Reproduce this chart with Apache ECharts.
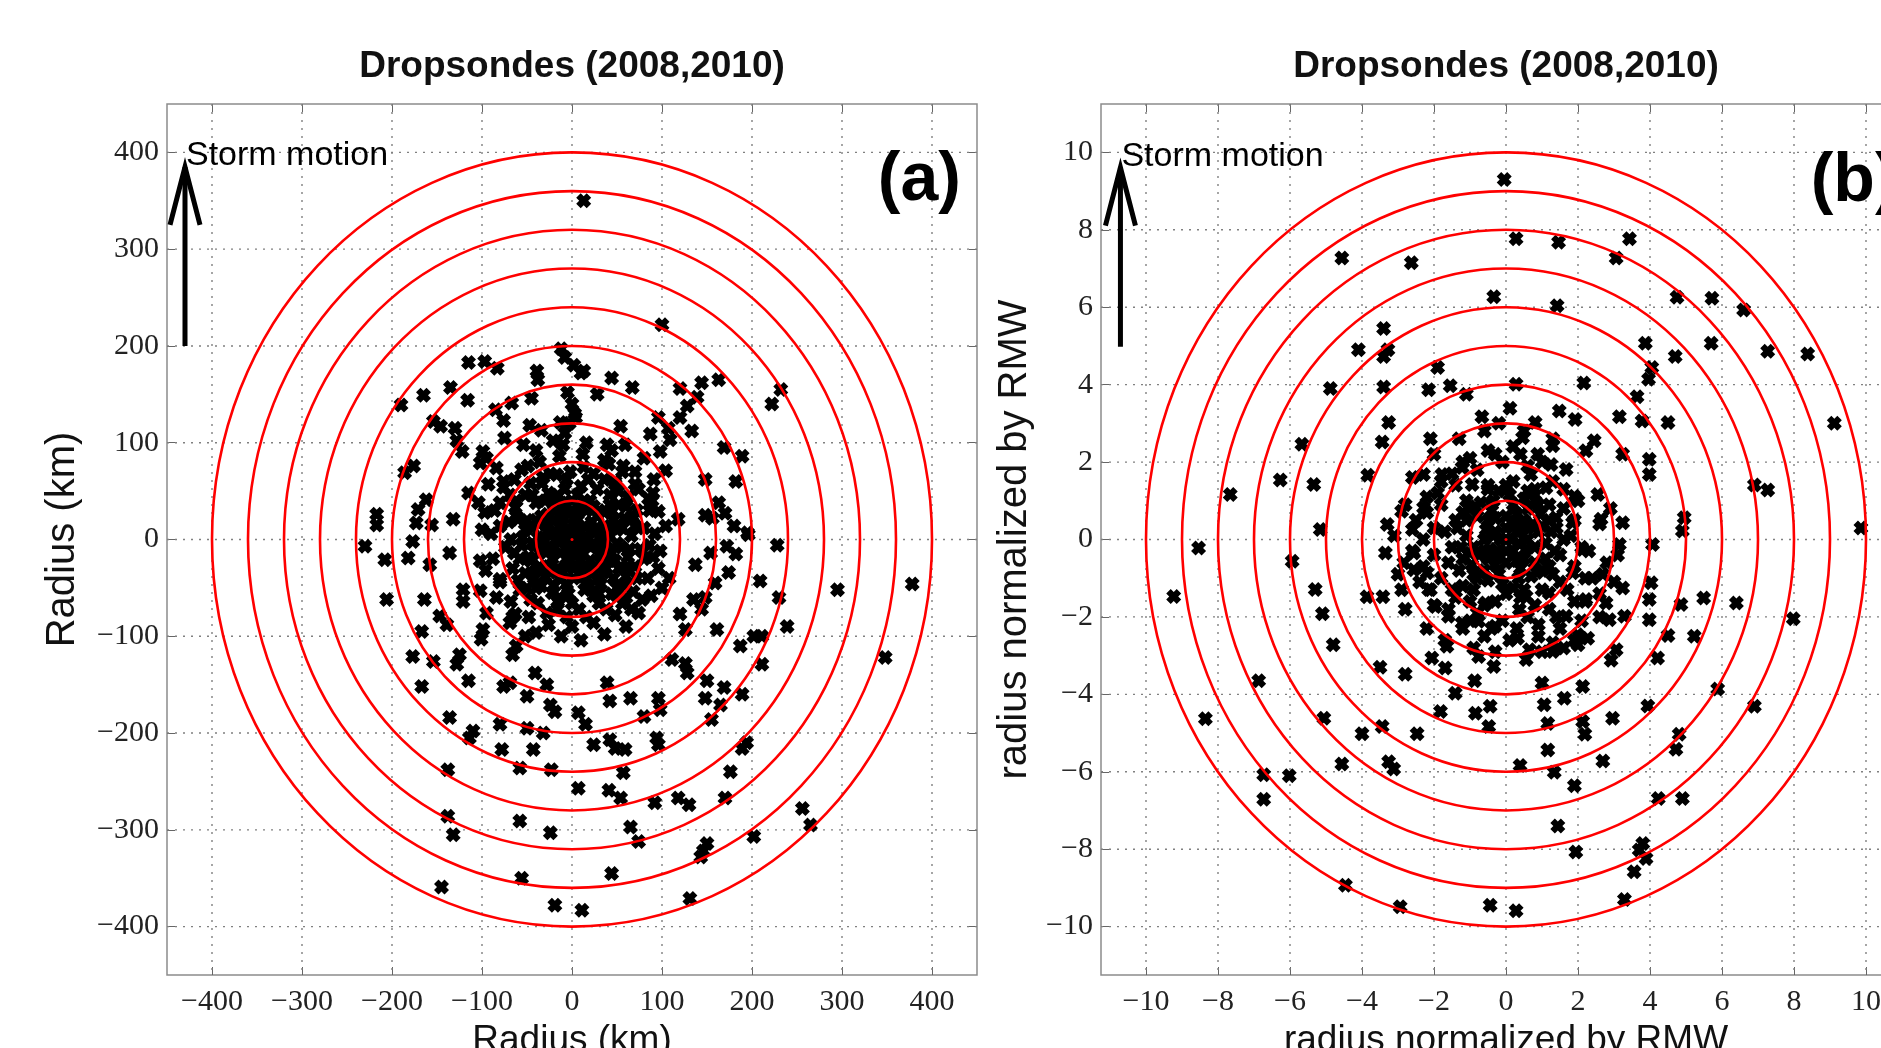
<!DOCTYPE html>
<html>
<head>
<meta charset="utf-8">
<script src="https://cdn.jsdelivr.net/npm/echarts@6/dist/echarts.min.js"></script>
<style>
html, body { margin: 0; padding: 0; background: #fff; }
#main { width: 1881px; height: 1048px; }
</style>
</head>
<body>
<div id="main"></div>
<script>
// ---- data ----
var titleText = 'Dropsondes (2008,2010)';

var kmTicks = [-400, -300, -200, -100, 0, 100, 200, 300, 400];
var rmwTicks = [-10, -8, -6, -4, -2, 0, 2, 4, 6, 8, 10];

var kmRings = [40, 80, 120, 160, 200, 240, 280, 320, 360, 400];
var rmwRings = [1, 2, 3, 4, 5, 6, 7, 8, 9, 10];

// storm motion arrow: [x, yStart, yEnd]
var kmArrow = [[-430, 200, 387]];
var rmwArrow = [[-10.71, 4.98, 9.66]];
var arrowText = 'Storm motion';

// panel tags: [x, y]
var kmTag = [[386, 370]];
var rmwTag = [[9.67, 9.24]];
var tagA = '(a)';
var tagB = '(b)';

var eyeKm = [[0, 0]];
var eyeRmw = [[0, 0]];

// dropsonde positions, km
var sondesKm = [
  // outer, north-west
  [-12,197],[-8,188],[2,180],[10,172],[-5,152],[0,140],[3,130],[-3,120],[-8,110],
  [-115,183],[-97,184],[-83,177],[-39,174],[-38,165],[-135,157],[-165,149],[-190,139],
  [-116,144],[-67,141],[-45,146],[-85,134],[-154,122],[-146,117],[-130,115],[-76,123],
  [-47,118],[-34,113],[-13,121],[-75,105],[-128,102],[-122,91],[-54,98],[-21,102],
  [-99,91],[-102,79],[-95,84],[-186,69],[-176,76],[-84,74],[-49,76],[-76,60],[-93,57],
  [-32,64],[-17,67],[-162,41],[-171,31],[-115,48],[-104,38],[-97,28],[-69,46],[-60,21],
  [-63,33],[-132,21],[-80,14],[-217,26],[-217,15],[-173,17],[-156,15],
  // outer, north-east
  [13,350],[100,222],[13,174],[44,167],[67,157],[28,150],[120,156],[144,162],[163,165],
  [139,147],[232,155],[222,140],[4,126],[120,126],[107,115],[96,126],[54,117],[39,98],
  [59,98],[87,109],[109,103],[98,91],[169,95],[189,86],[148,62],[182,60],[41,78],[57,76],
  [80,84],[91,62],[104,71],[13,75],[163,38],[148,25],[170,27],[180,14],[195,7],[118,21],
  [89,40],[67,24],[46,12],[196,5],[228,-6],[48,57],[70,57],[85,42],[96,29],[156,22],
  [128,138],[133,112],
  // outer, south-west
  [-230,-7],[-208,-21],[-182,-19],[-158,-26],[-177,-2],[-136,-14],[-102,-22],[-206,-62],
  [-164,-62],[-80,-41],[-121,-52],[-121,-64],[-102,-53],[-147,-79],[-139,-88],[-167,-95],
  [-95,-76],[-99,-93],[-101,-103],[-63,-77],[-69,-86],[-52,-100],[-62,-110],[-66,-119],
  [-125,-119],[-128,-129],[-177,-121],[-154,-126],[-115,-146],[-76,-152],[-69,-148],
  [-50,-162],[-41,-138],[-28,-150],[-167,-152],[-24,-171],[-19,-178],[-136,-184],
  [-110,-198],[-114,-205],[-80,-191],[-50,-195],[-32,-200],[-43,-217],[-78,-217],
  [-58,-236],[-23,-238],[-138,-238],[-138,-286],[-132,-305],[-58,-291],[-24,-303],
  [-145,-359],[-56,-350],[-19,-378],
  // outer, south-east
  [172,-7],[182,-15],[154,-14],[137,-26],[209,-43],[230,-60],[239,-90],[295,-52],[378,-46],
  [348,-122],[174,-34],[159,-45],[148,-60],[135,-62],[144,-72],[161,-93],[187,-110],
  [202,-100],[211,-100],[211,-129],[120,-77],[126,-93],[111,-124],[126,-128],[128,-138],
  [150,-146],[169,-153],[148,-164],[165,-171],[189,-160],[155,-186],[80,-183],[96,-164],
  [98,-176],[65,-164],[39,-148],[42,-167],[7,-179],[15,-191],[24,-212],[42,-207],[48,-216],
  [59,-217],[94,-205],[96,-212],[189,-216],[194,-210],[57,-241],[176,-240],[7,-257],
  [41,-259],[54,-267],[92,-272],[118,-267],[130,-274],[170,-267],[65,-297],[74,-312],
  [150,-314],[146,-322],[143,-328],[202,-307],[256,-278],[265,-295],[44,-345],[131,-371],
  [11,-383],
  // core
  [0,0],[8,6],[-8,6],[6,-8],[-6,-9],[16,2],[-16,-2],[2,16],[-3,-17],[14,14],[-14,13],
  [13,-15],[-13,-14],[24,-4],[-24,4],[4,26],[-5,-26],[22,18],[-20,20],[20,-22],[-22,-20],
  [32,6],[-32,-6],[8,34],[-10,-34],[30,-16],[-30,16],[16,30],[-16,-30],[28,24],[-27,26],
  [26,-28],[-26,-28],[38,-2],[-38,2],[0,40],[2,-40],[36,14],[-36,-14],[12,-38],[-12,38],
  [4,-4],[-4,4],[12,0],[-12,0],[0,10],[0,-12],[10,-22],[-10,22],[20,8],[-20,-8],[18,-6],
  [-18,8],[26,10],[-26,-10],[8,-28],[-8,28],[30,30],[-30,-30],[34,-26],[-34,24],[40,6],
  [-42,-6],[44,-14],[-44,12],[22,-36],[-20,36],[6,46],[-6,-46],[30,-40],[-30,40],[46,20],
  [-46,-22],[16,-46],[-16,46],[38,-30],[-40,-32],
  [6,20],[-6,-20],[18,-30],[-18,30],[34,0],[-34,0],[24,34],[-24,-34],[10,-10],[-10,10],
  [40,-20],[-40,20],[28,-8],[-28,8],[14,40],[-14,-40],[36,28],[-36,-28],[2,-30],[0,30],
  [-42,-40],[42,36],[50,-50],[-50,-50],[20,-48],[-20,-48],[50,-4],[56,12],[-56,-6],
  [-52,10],[60,-60],[30,-56],[0,-66],[-16,-64],
  // inner ring
  [44,30],[50,10],[55,-8],[48,-22],[62,-18],[66,4],[58,22],[42,46],[28,52],[10,55],
  [-8,52],[-26,48],[-40,38],[-50,20],[-55,2],[-48,-18],[-52,-35],[-40,-50],[-22,-55],
  [-4,-56],[14,-52],[32,-46],[46,-40],[60,-38],[70,-28],[76,-10],[80,12],[72,30],[62,44],
  [48,60],[24,68],[-2,70],[-24,68],[-46,58],[-62,40],[-70,18],[-74,-8],[-66,-30],
  [-58,-52],[-38,-66],[-16,-72],[8,-72],[30,-66],[50,-58],[68,-54],[84,-40],[90,-18],
  [92,6],[86,30],[74,52],[56,70],[36,82],[12,88],[-14,86],[-36,80],[-56,72],[-76,54],
  [-86,30],[-90,6],[-88,-20],[-80,-44],[-68,-64],[-48,-80],[-26,-88],[0,-90],[24,-86],
  [48,-78],[66,-72],[78,-62],[96,-30],[100,-50],[-30,-38],[35,-34],[40,-12],[-44,-4],
  [20,40],[-18,42],
  [52,-30],[58,-48],[64,-10],[72,-40],[80,-20],[86,-6],[70,14],[60,34],[52,50],[36,62],
  [18,62],[-6,62],[-34,58],[-52,46],[-62,24],[-64,-14],[-60,-42],[-46,-62],[-28,-76],
  [-6,-80],[16,-80],[38,-72],[56,-66],[74,-76],[88,-58],[98,-12],[104,14],[-96,-32],
  [-100,10],[-80,38],[-64,62],[-40,92],[-10,98],[16,100],[44,92],[70,70],[90,48],[108,-40],
  [-12,-100],[10,-104],[36,-98],[60,-90],[-40,-96],[-66,-80],[-84,-60],[24,-58],[-14,-60],
  [44,-56],[-34,-48],[62,-28],[-58,-20],[68,22],[-68,0],[52,36],[-44,46]
];

// dropsonde positions, normalized by RMW
var sondesRmw = [
  // outer, north-west
  [-0.05,9.3],[-4.56,7.27],[-2.63,7.15],[-0.34,6.27],[-3.4,5.45],[-4.1,4.9],[-3.28,4.9],
  [-3.4,4.73],[-1.9,4.44],[-4.88,3.9],[-3.4,3.94],[-2.15,3.87],[-1.55,3.97],[-1.1,3.75],
  [-0.67,3.17],[-0.2,3.0],[-3.26,3.02],[-3.44,2.52],[-2.1,2.6],[-5.67,2.46],[-6.27,1.54],
  [-5.34,1.42],[-7.66,1.16],[-3.84,1.66],[-2.29,1.68],[-1.78,1.68],[-1.22,1.86],
  [-0.94,1.42],[-2.29,0.82],[-2.9,0.73],[-3.3,0.39],[-5.16,0.26],[-2.6,0.26],
  // outer, north-east
  [0.28,7.77],[1.46,7.68],[3.43,7.77],[3.06,7.27],[4.75,6.26],[5.72,6.23],[6.6,5.93],
  [1.42,6.04],[3.87,5.07],[5.7,5.07],[4.7,4.73],[7.27,4.86],[8.38,4.79],[4.05,4.44],
  [3.96,4.14],[2.16,4.04],[0.28,4.01],[3.64,3.69],[0.11,3.39],[1.48,3.32],[1.92,3.1],
  [3.15,3.17],[3.78,3.06],[4.5,3.02],[9.12,3.0],[0.81,3.02],[0.46,2.63],[2.45,2.55],
  [2.22,2.29],[3.24,2.2],[3.98,2.07],[3.98,1.68],[6.9,1.41],[7.27,1.28],[0.88,2.2],
  [2.64,0.52],[3.24,0.43],[4.95,0.56],[4.9,0.22],[9.86,0.3],[1.3,2.42],[1.25,1.94],
  [0.69,1.68],[1.67,1.81],[1.9,1.12],[2.55,1.16],[1.11,1.34],[0.6,1.25],[1.39,0.56],
  [1.85,0.43],
  // outer, south-west
  [-8.54,-0.22],[-9.23,-1.47],[-5.94,-0.56],[-5.3,-1.29],[-5.1,-1.92],[-4.8,-2.72],
  [-3.35,-0.35],[-3.86,-1.48],[-3.42,-1.48],[-6.87,-3.65],[-8.35,-4.63],[-5.06,-4.62],
  [-4.0,-5.02],[-3.44,-4.83],[-2.47,-5.02],[-4.56,-5.8],[-3.26,-5.74],[-3.12,-5.93],
  [-6.73,-6.08],[-6.02,-6.1],[-6.73,-6.71],[-3.5,-3.3],[-2.8,-3.48],[-2.06,-3.06],
  [-1.64,-2.76],[-1.69,-3.32],[-0.76,-3.02],[-0.34,-3.28],[-0.87,-3.65],[-1.41,-3.97],
  [-1.82,-4.44],[-0.85,-4.49],[-0.44,-4.31],[-0.48,-4.83],[-4.46,-8.93],[-2.94,-9.49],
  [-0.44,-9.45],[-2.56,-0.35],[-2.84,-0.6],[-2.56,-0.78],[-2.19,-0.86],[-2.15,-1.29],
  [-1.96,-1.73],[-1.6,-1.98],[-1.22,-2.16],[-0.76,-2.11],[-0.3,-2.24],[-1.5,-1.29],
  [-0.57,-1.64],
  // outer, south-east
  [0.28,-9.59],[3.29,-9.3],[3.56,-8.58],[3.7,-8.02],[3.89,-8.24],[3.8,-7.85],[1.94,-8.07],
  [1.44,-7.4],[4.23,-6.69],[4.9,-6.69],[1.9,-6.36],[1.34,-6.01],[0.39,-5.84],[2.69,-5.72],
  [1.16,-5.44],[4.72,-5.42],[4.81,-5.03],[2.19,-5.03],[2.13,-4.7],[2.96,-4.62],[3.94,-4.3],
  [5.88,-3.86],[6.9,-4.31],[1.06,-4.27],[1.16,-4.75],[1.62,-4.1],[2.13,-3.8],[1.0,-3.71],
  [2.92,-3.12],[3.06,-2.85],[4.21,-3.06],[4.5,-2.48],[5.23,-2.5],[3.98,-2.07],[3.98,-1.55],
  [4.86,-1.68],[5.49,-1.51],[6.4,-1.64],[7.98,-2.05],[2.87,-2.07],[3.29,-1.98],[2.0,-2.72],
  [2.27,-2.55],[1.3,-2.89],[0.56,-3.1],[0.32,-2.55],[2.69,-0.9],[3.24,-1.25],[4.03,-1.12],
  [4.07,-0.13],[3.15,-0.13],[1.85,-0.86],[2.22,-1.55],[1.67,-1.98],[1.2,-1.38],
  [0.56,-1.47],[0.37,-1.81],[0.65,-2.85],[1.3,-2.67],[1.99,-2.46],[2.13,-0.26],[2.78,-1.64],
  // core
  [0,0],[0.3,0.2],[-0.3,0.2],[0.2,-0.3],[-0.25,-0.3],[0.6,0],[-0.6,0],[0,0.6],[0,-0.6],
  [0.5,0.5],[-0.5,0.5],[0.5,-0.5],[-0.5,-0.5],[0.9,0.2],[-0.9,-0.2],[0.2,0.9],[-0.2,-0.9],
  [0.8,-0.6],[-0.8,0.6],[0.6,0.8],[-0.6,-0.8],[1.1,-0.1],[-1.1,0.1],[0.1,1.15],[-0.1,-1.15],
  [0.95,0.65],[-0.95,-0.65],[0.7,-0.95],[-0.7,0.95],
  [0.15,0],[-0.15,0],[0,0.3],[0,-0.3],[0.35,-0.1],[-0.35,0.1],[0.45,0.25],[-0.45,-0.25],
  [0.25,0.45],[-0.25,-0.45],[0.75,0.4],[-0.75,-0.4],[0.4,-0.75],[-0.4,0.75],[0.3,0.65],
  [-0.3,-0.65],[1.0,0.35],[-1.0,-0.35],[0.35,-1.0],[-0.35,1.0],[1.1,-0.5],[-1.1,0.5],
  [0.5,1.05],[-0.5,-1.05],[0.85,-0.85],[-0.85,0.85],[0.9,0.9],[-0.9,-0.9],[1.25,0.2],
  [-1.25,-0.2],[0.2,-1.25],[-0.2,1.25],[1.2,-0.7],[-1.2,0.7],[0.7,1.2],
  [0.15,0.45],[-0.15,-0.45],[0.6,0.3],[-0.6,-0.3],[0.55,-0.25],[-0.55,0.25],[0.3,-0.55],
  [-0.3,0.55],[1.0,-0.8],[-1.0,0.8],[0.8,1.0],[-0.8,-1.0],[1.2,0.5],[-1.2,-0.5],[0.0,1.4],
  [0.0,-1.4],[1.35,-0.3],[-1.35,0.3],[0.5,-1.3],[-0.5,1.3],[-0.6,-1.7],[-1.2,-1.2],
  [-1.6,-0.6],[0.8,-1.7],[1.5,-1.1],[-1.0,-1.6],[-1.7,0.2],[1.6,0.0],
  // inner ring
  [1.4,0.3],[1.5,-0.4],[1.3,-0.9],[1.0,-1.3],[0.4,-1.5],[-0.3,-1.6],[-0.9,-1.3],[-1.3,-0.8],
  [-1.5,-0.2],[-1.4,0.5],[-1.1,1.0],[-0.5,1.4],[0.2,1.5],[0.8,1.3],[1.2,0.9],[1.8,0.1],
  [1.9,-0.7],[1.7,-1.3],[1.2,-1.8],[0.6,-2.0],[-0.1,-2.1],[-0.8,-1.9],[-1.4,-1.5],
  [-1.8,-1.0],[-2.0,-0.4],[-2.0,0.3],[-1.8,0.9],[-1.4,1.4],[-0.8,1.8],[-0.1,2.0],[0.6,1.9],
  [1.3,1.5],[2.3,-0.3],[2.4,-1.0],[2.2,-1.6],[1.5,-2.3],[0.9,-2.5],[0.1,-2.6],[-0.6,-2.5],
  [-1.2,-2.3],[-2.0,-1.7],[-2.4,-1.1],[-2.6,-0.3],[-2.5,0.5],[-2.2,1.1],[-1.8,1.5],
  [-1.2,2.0],[-0.5,2.3],[0.2,2.4],[2.6,0.4],[2.8,-0.6],[2.6,-1.4],[-0.3,-2.9],[-1.7,-2.6],
  [-2.8,-1.8],[-3.0,-0.9],[1.6,-2.8],[2.1,-2.1],[0.8,-0.2],[-0.4,0.9],
  [1.6,0.8],[1.9,0.5],[2.1,-0.2],[2.2,-1.0],[1.9,-1.6],[1.4,-2.0],[0.9,-2.2],[0.3,-2.3],
  [-0.4,-2.3],[-1.0,-2.1],[-1.6,-1.8],[-2.1,-1.3],[-2.3,-0.7],[-2.3,0.0],[-2.2,0.7],
  [-1.9,1.2],[-1.5,1.7],[-1.0,2.1],[-0.3,2.2],[0.4,2.2],[1.0,2.0],[1.6,1.3],[2.0,1.0],
  [2.6,-2.0],[1.9,-2.6],[1.0,-2.9],[-0.9,-2.8],[-2.2,-2.3],[-2.9,-1.3],[-3.1,0.1],
  [-2.8,0.9],[-2.6,1.6],[-2.0,2.2],[-1.3,2.6],[-0.6,2.8],[0.5,2.8],[1.3,2.6],[2.9,0.8],
  [3.1,-0.4],[3.0,-1.1]
];

// ---- styling helpers ----
// bold "x" marker like MATLAB's thick x
var crossMark = 'path://M0,3 L3,0 L5,2 L7,0 L10,3 L8,5 L10,7 L7,10 L5,8 L3,10 L0,7 L2,5 Z';
var sansFont = 'Liberation Sans';
var serifFont = 'Liberation Serif';

function tickFmt(v) {
    return v < 0 ? '\u2212' + Math.abs(v) : String(v);
}

function makeAxis(gi, pos, lim, ticks, name, nameGap, labels) {
    return {
        type: 'value',
        gridIndex: gi,
        position: pos,
        min: -lim,
        max: lim,
        name: labels ? name : '',
        nameLocation: 'middle',
        nameGap: nameGap,
        nameTextStyle: {
            fontFamily: sansFont,
            fontSize: (pos === 'left') ? 40 : 37,
            color: '#111'
        },
        axisLine: {show: false, onZero: false},
        axisTick: {
            show: true,
            inside: true,
            length: 8,
            customValues: ticks,
            lineStyle: {color: '#666', width: 1}
        },
        axisLabel: {
            show: labels,
            customValues: ticks,
            formatter: tickFmt,
            fontFamily: serifFont,
            fontSize: 30,
            color: '#222',
            margin: (pos === 'left') ? 8 : 12
        },
        splitLine: {show: false}
    };
}

function gridLines(idx, vals, vertical) {
    return {
        type: 'custom',
        xAxisIndex: idx,
        yAxisIndex: idx,
        silent: true,
        z: 1,
        data: vals.map(function (v) { return [v]; }),
        renderItem: function (params, api) {
            var cs = params.coordSys;
            var v = api.value(0);
            var shape;
            if (vertical) {
                var px = api.coord([v, 0])[0];
                shape = {x1: px, y1: cs.y, x2: px, y2: cs.y + cs.height};
            } else {
                var py = api.coord([0, v])[1];
                shape = {x1: cs.x, y1: py, x2: cs.x + cs.width, y2: py};
            }
            return {
                type: 'line',
                shape: shape,
                style: {stroke: '#808080', lineWidth: 1.4, lineDash: [2, 6]}
            };
        }
    };
}

function ringSeries(idx, rings) {
    return {
        type: 'custom',
        xAxisIndex: idx,
        yAxisIndex: idx,
        silent: true,
        z: 3,
        data: rings.map(function (r) { return [r]; }),
        renderItem: function (params, api) {
            var r = api.value(0);
            var c = api.coord([0, 0]);
            var s = api.size([r, r]);
            return {
                type: 'ellipse',
                shape: {cx: c[0], cy: c[1], rx: s[0], ry: s[1]},
                style: {fill: 'none', stroke: '#ff0000', lineWidth: 2.6}
            };
        }
    };
}

function arrowSeries(idx, arrow, tag, tagText) {
    return {
        type: 'custom',
        xAxisIndex: idx,
        yAxisIndex: idx,
        silent: true,
        z: 5,
        data: arrow,
        renderItem: function (params, api) {
            var p0 = api.coord([api.value(0), api.value(1)]);
            var p1 = api.coord([api.value(0), api.value(2)]);
            var t = api.coord(tag[0]);
            return {
                type: 'group',
                children: [
                    {type: 'line', shape: {x1: p0[0], y1: p0[1], x2: p1[0], y2: p1[1] + 2},
                        style: {stroke: '#000', lineWidth: 5}},
                    {type: 'polyline', shape: {points: [[p1[0] - 15, p1[1] + 60], [p1[0], p1[1] + 2], [p1[0] + 15, p1[1] + 60]]},
                        style: {stroke: '#000', fill: 'none', lineWidth: 5}},
                    {type: 'text', x: p1[0] + 1, y: p1[1] + 8,
                        style: {text: arrowText, fill: '#000', font: '34px "Liberation Sans"',
                            align: 'left', verticalAlign: 'bottom'}},
                    {type: 'text', x: t[0], y: t[1],
                        style: {text: tagText, fill: '#000', font: 'bold 68px "Liberation Sans"',
                            align: 'center', verticalAlign: 'middle'}}
                ]
            };
        }
    };
}

function sondeSeries(idx, pts) {
    return {
        type: 'scatter',
        xAxisIndex: idx,
        yAxisIndex: idx,
        silent: true,
        z: 2,
        symbol: crossMark,
        symbolSize: 15,
        itemStyle: {color: '#000', opacity: 1},
        data: pts
    };
}

function eyeSeries(idx, pts) {
    return {
        type: 'scatter',
        xAxisIndex: idx,
        yAxisIndex: idx,
        silent: true,
        z: 4,
        symbol: 'circle',
        symbolSize: 3,
        itemStyle: {color: '#ff0000', opacity: 1},
        data: pts
    };
}

var chart = echarts.init(document.getElementById('main'));

var option = {
    backgroundColor: '#fff',
    animation: false,
    title: [
        {text: titleText, left: 572, top: 48, textAlign: 'center', padding: 0,
            textStyle: {fontFamily: sansFont, fontSize: 37, fontWeight: 'bold', color: '#111'}},
        {text: titleText, left: 1506, top: 48, textAlign: 'center', padding: 0,
            textStyle: {fontFamily: sansFont, fontSize: 37, fontWeight: 'bold', color: '#111'}}
    ],
    grid: [
        {left: 167, top: 104, width: 810, height: 871, show: true, outerBoundsMode: 'none',
            containLabel: false, borderColor: '#8c8c8c', borderWidth: 1.5, backgroundColor: 'transparent'},
        {left: 1101, top: 104, width: 810, height: 871, show: true, outerBoundsMode: 'none',
            containLabel: false, borderColor: '#8c8c8c', borderWidth: 1.5, backgroundColor: 'transparent'}
    ],
    xAxis: [
        makeAxis(0, 'bottom', 450, kmTicks, 'Radius (km)', 43, true),
        makeAxis(1, 'bottom', 11.25, rmwTicks, 'radius normalized by RMW', 43, true),
        makeAxis(0, 'top', 450, kmTicks, '', 0, false),
        makeAxis(1, 'top', 11.25, rmwTicks, '', 0, false)
    ],
    yAxis: [
        makeAxis(0, 'left', 450, kmTicks, 'Radius (km)', 84, true),
        makeAxis(1, 'left', 11.25, rmwTicks, 'radius normalized by RMW', 66, true),
        makeAxis(0, 'right', 450, kmTicks, '', 0, false),
        makeAxis(1, 'right', 11.25, rmwTicks, '', 0, false)
    ],
    series: [
        gridLines(0, kmTicks, true),
        gridLines(0, kmTicks, false),
        gridLines(1, rmwTicks, true),
        gridLines(1, rmwTicks, false),
        sondeSeries(0, sondesKm),
        sondeSeries(1, sondesRmw),
        ringSeries(0, kmRings),
        ringSeries(1, rmwRings),
        eyeSeries(0, eyeKm),
        eyeSeries(1, eyeRmw),
        arrowSeries(0, kmArrow, kmTag, tagA),
        arrowSeries(1, rmwArrow, rmwTag, tagB)
    ]
};

chart.setOption(option);
</script>
</body>
</html>
